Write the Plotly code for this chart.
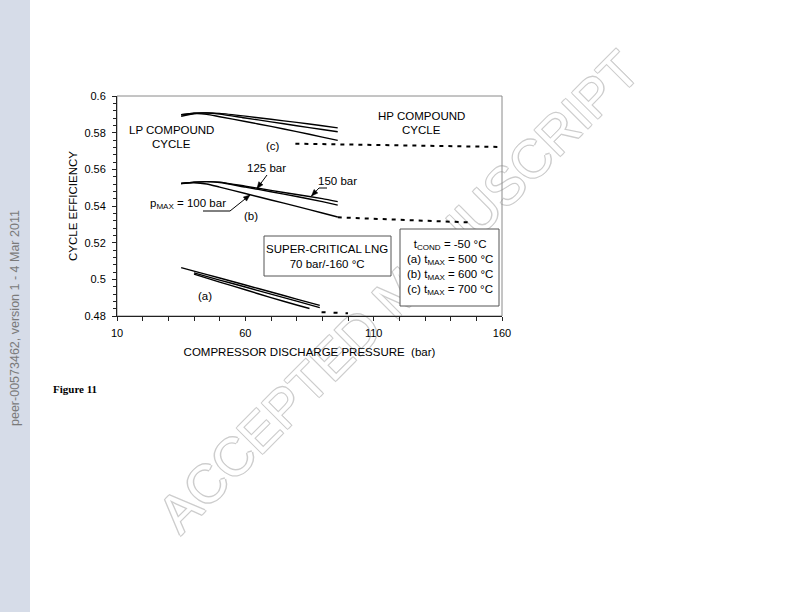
import math
import plotly.graph_objects as go

# ---------------- data ----------------
P_BC = [35, 40, 45, 50, 60, 70, 80, 90, 96]          # compressor discharge pressure (bar)

# (c) t_max = 700 C, LP compound cycle, p_max = 100/125/150 bar
C_100 = [0.5889, 0.5903, 0.5900, 0.5887, 0.5861, 0.5834, 0.5806, 0.5776, 0.5758]
C_125 = [0.5898, 0.5906, 0.5907, 0.5901, 0.5880, 0.5859, 0.5838, 0.5817, 0.5805]
C_150 = [0.5898, 0.5906, 0.5908, 0.5905, 0.5890, 0.5873, 0.5856, 0.5838, 0.5826]

# (b) t_max = 600 C
B_100 = [0.5523, 0.5527, 0.5520, 0.5503, 0.5468, 0.5433, 0.5398, 0.5362, 0.5340]
B_125 = [0.5523, 0.5530, 0.5533, 0.5528, 0.5503, 0.5478, 0.5452, 0.5424, 0.5405]
B_150 = [0.5523, 0.5530, 0.5533, 0.5530, 0.5508, 0.5485, 0.5463, 0.5440, 0.5424]

# (a) t_max = 500 C
P_A150 = [35, 40, 50, 60, 70, 80, 89]
A_150 = [0.5064, 0.5045, 0.5007, 0.4969, 0.4931, 0.4892, 0.4858]
P_A125 = [40, 50, 60, 70, 80, 89]
A_125 = [0.5035, 0.4996, 0.4958, 0.4919, 0.4881, 0.4846]
P_A100 = [40, 50, 60, 70, 80, 85]
A_100 = [0.5028, 0.4985, 0.4943, 0.4900, 0.4860, 0.4841]

# HP compound cycle (dashed)
HP_C_P = [79.5, 160]
HP_C = [0.5740, 0.5722]
HP_B_P = [96, 148]
HP_B = [0.5338, 0.5310]
HP_A_P = [89.7, 100]
HP_A = [0.4821, 0.4815]

X_TICKS = [10, 60, 110, 160]
X_TICKTEXT = ["10", "60", "110", "160"]
Y_TICKS = [0.48, 0.50, 0.52, 0.54, 0.56, 0.58, 0.60]
Y_TICKTEXT = ["0.48", "0.5", "0.52", "0.54", "0.56", "0.58", "0.6"]

# ---------------- layout geometry ----------------
FIG_W, FIG_H = 792, 612
L, T, W, H = 117, 96, 385, 220
FONT = "Liberation Sans, Arial, sans-serif"
INK = "#222222"


def pp(px, py):
    """page pixel -> paper coordinates"""
    return (px - L) / W, (T + H - py) / H


fig = go.Figure()

solid = dict(color="black", width=1.4)
for xs, ys in [(P_BC, C_100), (P_BC, C_125), (P_BC, C_150),
               (P_BC, B_100), (P_BC, B_125), (P_BC, B_150),
               (P_A150, A_150), (P_A125, A_125), (P_A100, A_100)]:
    fig.add_trace(go.Scatter(x=xs, y=ys, mode="lines", line=dict(shape="spline", smoothing=0.6, **solid),
                             showlegend=False, hoverinfo="skip"))

for xs, ys, dash in [(HP_C_P, HP_C, "4px,5px"), (HP_B_P, HP_B, "4px,5px"), (HP_A_P, HP_A, "4px,8px")]:
    fig.add_trace(go.Scatter(x=xs, y=ys, mode="lines", line=dict(color="black", width=2, dash=dash),
                             showlegend=False, hoverinfo="skip"))

shapes = []
annotations = []

# left grey sidebar of the page
x0, y0 = pp(0, 0)
x1, y1 = pp(30, FIG_H)
shapes.append(dict(type="rect", xref="paper", yref="paper", x0=x0, x1=x1, y0=y1, y1=y0,
                   line=dict(width=0), fillcolor="#d6dce8", layer="below"))

# watermark (drawn under the curves)
wx0, wy0 = pp(385, 278)
wx1, wy1 = pp(405, 298)
shapes.append(dict(type="rect", xref="paper", yref="paper", x0=wx0, x1=wx1, y0=wy1, y1=wy0,
                   line=dict(width=0), fillcolor="rgba(0,0,0,0)", layer="below",
                   label=dict(text="ACCEPTED MANUSCRIPT", textangle=-45, textposition="middle center",
                              font=dict(family=FONT, size=53, color="white",
                                        shadow="-1px -1px 0 #cdcdcd, 1px -1px 0 #cdcdcd, -1px 1px 0 #cdcdcd, 1px 1px 0 #cdcdcd"))))

# plot frame (grey top/right)
shapes.append(dict(type="rect", xref="paper", yref="paper", x0=0, x1=1, y0=0, y1=1,
                   line=dict(color="#8a8a8a", width=1), layer="below"))

# legend-like boxes
for (bx0, by0, bx1, by1) in [(264, 236, 391, 276), (400, 229, 499, 306)]:
    a0, b0 = pp(bx0, by0)
    a1, b1 = pp(bx1, by1)
    shapes.append(dict(type="rect", xref="paper", yref="paper", x0=a0, x1=a1, y0=b1, y1=b0,
                       line=dict(color="#555555", width=1), fillcolor="white", layer="below"))


def text(px, py, s, size=11.5, color="black", family=FONT, **kw):
    x, y = pp(px, py)
    annotations.append(dict(xref="paper", yref="paper", x=x, y=y, text=s, showarrow=False,
                            font=dict(family=family, size=size, color=color),
                            xanchor="center", yanchor="middle", **kw))


def leader(pts, head_len=6.5, head_half=2.6):
    """polyline leader (page pixels) with a filled arrowhead at the last point"""
    for (ax_, ay_), (bx_, by_) in zip(pts[:-1], pts[1:]):
        a0, b0 = pp(ax_, ay_)
        a1, b1 = pp(bx_, by_)
        shapes.append(dict(type="line", xref="paper", yref="paper", x0=a0, y0=b0, x1=a1, y1=b1,
                           line=dict(color="black", width=1)))
    (tx, ty), (hx, hy) = pts[-2], pts[-1]
    d = math.hypot(hx - tx, hy - ty)
    ux, uy = (hx - tx) / d, (hy - ty) / d
    bx, by = hx - ux * head_len, hy - uy * head_len
    c1 = pp(bx - uy * head_half, by + ux * head_half)
    c2 = pp(bx + uy * head_half, by - ux * head_half)
    tip = pp(hx, hy)
    path = "M{:.5f},{:.5f} L{:.5f},{:.5f} L{:.5f},{:.5f} Z".format(tip[0], tip[1], c1[0], c1[1], c2[0], c2[1])
    shapes.append(dict(type="path", xref="paper", yref="paper", path=path,
                       fillcolor="black", line=dict(color="black", width=0.5)))


text(171, 130, "LP COMPOUND")
text(171, 144, "CYCLE")
text(421, 116, "HP COMPOUND")
text(421, 130, "CYCLE")
text(273, 146, "(c)")
text(251, 216, "(b)")
text(205, 296, "(a)")
text(266, 168, "125 bar")
text(337, 181, "150 bar")
text(188, 204, "p<sub>MAX</sub> = 100 bar")
text(327, 256, "SUPER-CRITICAL LNG<br>70 bar/-160 °C")
text(450, 267, "t<sub>COND</sub> = -50 °C<br>(a) t<sub>MAX</sub> = 500 °C<br>(b) t<sub>MAX</sub> = 600 °C<br>(c) t<sub>MAX</sub> = 700 °C")

leader([(203, 211), (230, 211), (250, 195)])
leader([(267, 175), (257, 188.5)])
leader([(327, 188), (319, 188), (311.5, 196)])

# page texts
text(75, 389, "<b>Figure 11</b>", size=11, family="Liberation Serif, Times New Roman, serif")
text(15, 318, "peer-00573462, version 1 - 4 Mar 2011", size=12.5, color="#7a7a7a", textangle=-90)

axis_common = dict(showline=True, linecolor=INK, linewidth=1, ticks="outside", ticklen=4,
                   tickcolor=INK, tickwidth=1, showgrid=False, zeroline=False,
                   tickfont=dict(family=FONT, size=11, color="black"))

fig.update_layout(
    width=FIG_W, height=FIG_H,
    margin=dict(l=L, r=FIG_W - L - W, t=T, b=FIG_H - T - H, autoexpand=False),
    paper_bgcolor="white", plot_bgcolor="white",
    showlegend=False,
    xaxis=dict(range=[10, 160], tickmode="array", tickvals=X_TICKS, ticktext=X_TICKTEXT,
               ticklabelstandoff=3,
               minor=dict(tickmode="linear", tick0=10, dtick=10, ticks="outside", ticklen=4,
                          tickcolor=INK, showgrid=False),
               title=dict(text="COMPRESSOR DISCHARGE PRESSURE  (bar)", standoff=9,
                          font=dict(family=FONT, size=11.5, color="black")),
               **axis_common),
    yaxis=dict(range=[0.48, 0.60], tickmode="array", tickvals=Y_TICKS, ticktext=Y_TICKTEXT,
               ticklabelstandoff=4,
               minor=dict(tickmode="linear", tick0=0.48, dtick=0.004, ticks="outside", ticklen=3,
                          tickcolor=INK, showgrid=False),
               title=dict(text="CYCLE EFFICIENCY", standoff=4,
                          font=dict(family=FONT, size=11.5, color="black")),
               **axis_common),
    shapes=shapes,
    annotations=annotations,
)

fig.write_html("out.html",
               config={"displayModeBar": False, "staticPlot": True},
               post_script="document.body.style.margin='0';document.body.style.overflow='hidden';")
